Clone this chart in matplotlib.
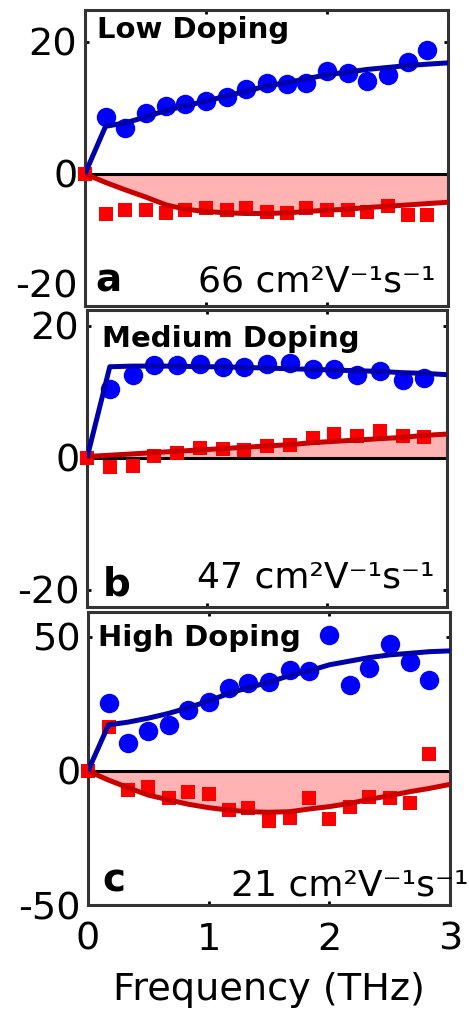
import matplotlib
matplotlib.use("Agg")
import matplotlib.pyplot as plt

# ---- data -------------------------------------------------------------
# frequency grids (THz)
freq_fit_ac = [0, 0.17, 0.33, 0.5, 0.67, 0.83, 1.0, 1.17, 1.33, 1.5, 1.67,
               1.83, 2.0, 2.17, 2.33, 2.5, 2.67, 2.83, 3.0]
freq_data_ac = [0, 0.17, 0.33, 0.5, 0.67, 0.83, 1.0, 1.17, 1.33, 1.5, 1.67,
                1.83, 2.0, 2.17, 2.33, 2.5, 2.67, 2.83]
freq_fit_b = [0, 0.19, 0.38, 0.56, 0.75, 0.94, 1.13, 1.31, 1.5, 1.69, 1.88,
              2.06, 2.25, 2.44, 2.63, 2.81, 3.0]
freq_data_b = [0, 0.19, 0.38, 0.56, 0.75, 0.94, 1.13, 1.31, 1.5, 1.69, 1.88,
               2.06, 2.25, 2.44, 2.63, 2.81]

# (a) low doping
real_a = [8.6, 6.9, 9.2, 10.2, 10.5, 11.0, 11.6, 12.8, 13.8, 13.6, 13.7,
          15.5, 15.3, 14.0, 15.0, 17.0, 18.7]
imag_a = [0, -6.0, -5.5, -5.4, -5.9, -5.5, -5.2, -5.5, -5.1, -5.7, -5.9,
          -5.1, -5.4, -5.4, -5.7, -4.9, -6.2, -6.2]
real_fit_a = [0, 7.2, 7.7, 8.6, 9.6, 10.3, 11.0, 11.8, 12.5, 13.3, 13.8,
              14.4, 15.0, 15.4, 15.8, 16.1, 16.4, 16.6, 16.8]
imag_fit_a = [0, -1.3, -2.4, -3.5, -4.7, -5.35, -5.7, -5.9, -6.0, -6.0, -5.9,
              -5.7, -5.5, -5.35, -5.1, -4.9, -4.7, -4.5, -4.3]

# (b) medium doping
real_b = [10.4, 12.6, 14.1, 14.1, 14.2, 13.8, 13.7, 14.2, 14.3, 13.4, 13.4,
          12.6, 13.1, 11.8, 12.1]
imag_b = [0, -1.4, -1.2, 0.3, 0.8, 1.5, 1.3, 1.2, 1.8, 2.0, 3.0, 3.6, 3.3,
          4.1, 3.3, 3.2]
real_fit_b = [0, 13.8, 13.9, 13.9, 13.9, 13.8, 13.8, 13.7, 13.6, 13.5, 13.4,
              13.3, 13.2, 13.1, 12.9, 12.8, 12.6]
imag_fit_b = [0.2, 0.4, 0.6, 0.8, 1.0, 1.2, 1.4, 1.6, 1.8, 2.0, 2.3, 2.5,
              2.7, 2.9, 3.1, 3.4, 3.6]

# (c) high doping
real_c = [25.3, 10.3, 14.9, 17.2, 22.8, 25.9, 30.9, 32.7, 33.3, 37.7, 37.3,
          50.7, 32.1, 38.3, 47.3, 40.8, 34.0]
imag_c = [0, 16.5, -7.1, -5.9, -10.2, -7.9, -8.7, -14.6, -13.9, -18.7, -17.7,
          -9.9, -17.9, -13.3, -9.6, -9.9, -12.1, 6.2]
real_fit_c = [0, 17.2, 18.2, 19.7, 21.5, 23.6, 26.1, 29.0, 31.1, 33.1, 35.6,
              37.3, 39.6, 41.0, 42.3, 43.3, 43.9, 44.5, 44.8]
imag_fit_c = [0, -3.4, -6.2, -9.0, -10.8, -12.4, -13.7, -14.6, -15.2, -15.4,
              -15.2, -14.2, -13.3, -12.1, -10.6, -9.2, -7.7, -6.5, -5.0]

titles = ["Low Doping", "Medium Doping", "High Doping"]
letters = ["a", "b", "c"]
mobilities = ["66 cm²V⁻¹s⁻¹", "47 cm²V⁻¹s⁻¹", "21 cm²V⁻¹s⁻¹"]
yticks_list = [[-20, 0, 20], [-20, 0, 20], [-50, 0, 50]]
ylims = [(-20, 24.8), (-22.6, 22.4), (-50, 59.3)]
xticks = [0, 1, 2, 3]

# ---- styling ------------------------------------------------------------
plt.rcParams["font.family"] = ["DejaVu Sans"]
plt.rcParams["axes.unicode_minus"] = False
W, H = 469, 1017
fig = plt.figure(figsize=(W / 100, H / 100), dpi=100)


def px_rect(left, top, right, bottom):
    return [left / W, 1 - bottom / H, (right - left) / W, (bottom - top) / H]


def fig_xy(x, y):
    return x / W, 1 - y / H


rects = [px_rect(85, 10, 448, 306), px_rect(87, 310, 447, 607),
         px_rect(88, 612, 450, 905)]
title_pos = [(97, 38), (102, 347), (98, 646)]
letter_pos = [(95, 292), (103, 595), (102, 892)]
unit_pos = [(198, 292), (197, 588), (231, 895)]

panels = [
    (freq_data_ac, freq_fit_ac, real_a, imag_a, real_fit_a, imag_fit_a),
    (freq_data_b, freq_fit_b, real_b, imag_b, real_fit_b, imag_fit_b),
    (freq_data_ac, freq_fit_ac, real_c, imag_c, real_fit_c, imag_fit_c),
]

BLUE_PT = "#0000ff"
BLUE_LN = "#0000aa"
RED_PT = "#ff0000"
RED_LN = "#c80000"
PINK = "#ffb3b3"
FRAME = "#333333"

for i, (fd, ff, re_d, im_d, re_f, im_f) in enumerate(panels):
    ax = fig.add_axes(rects[i])
    ax.fill_between(ff, 0, im_f, color=PINK, lw=0, zorder=1)
    ax.plot([0, 3], [0, 0], color="black", lw=2.2, zorder=2)
    ax.plot(fd[len(fd) - len(re_d):], re_d, "o", color=BLUE_PT, ms=14,
            mew=0, zorder=3)
    ax.plot(fd, im_d, "s", color=RED_PT, ms=10.5, mew=0, zorder=3,
            clip_on=False)
    ax.plot(ff, im_f, color=RED_LN, lw=3.6, zorder=4, solid_capstyle="butt")
    ax.plot(ff, re_f, color=BLUE_LN, lw=3.6, zorder=5, solid_capstyle="butt")

    ax.set_xlim(0, 3)
    ax.set_ylim(*ylims[i])
    ax.set_xticks(xticks)
    ax.set_yticks(yticks_list[i])
    ax.tick_params(direction="in", length=3, width=2, top=True, right=True,
                   labelsize=27.5, pad=5.5, colors="black")
    if i < 2:
        ax.tick_params(labelbottom=False)
    else:
        ax.tick_params(axis="x", pad=12)
        ax.set_xlabel("Frequency (THz)", fontsize=27.5, labelpad=10)
    if i == 0:
        # keep the lowest label inside the panel so it clears the one below
        ax.yaxis.get_major_ticks()[0].label1.set_verticalalignment("bottom")
    for sp in ax.spines.values():
        sp.set_linewidth(2.2)
        sp.set_color(FRAME)

    fig.text(*fig_xy(*title_pos[i]), titles[i], fontsize=21,
             fontweight="bold", va="baseline", ha="left")
    fig.text(*fig_xy(*letter_pos[i]), letters[i], fontsize=28,
             fontweight="bold", va="baseline", ha="left")
    fig.text(*fig_xy(*unit_pos[i]), mobilities[i], fontsize=26,
             va="baseline", ha="left")

fig.savefig("out.png", dpi=100)
